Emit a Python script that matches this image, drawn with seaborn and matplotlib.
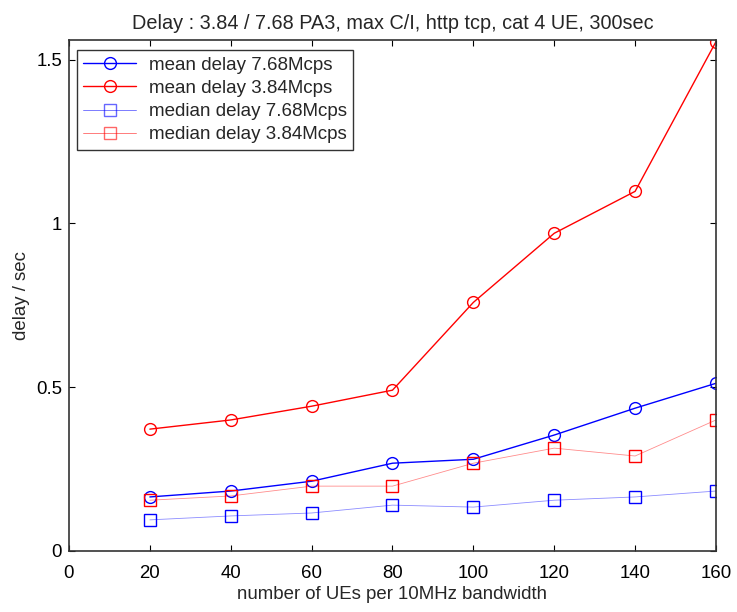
import matplotlib
matplotlib.use("Agg")
import matplotlib.pyplot as plt
import seaborn as sns
import pandas as pd
from matplotlib.lines import Line2D

sns.set_theme(style="white")
plt.rcParams["font.family"] = ["Liberation Sans", "DejaVu Sans"]

ues = [20, 40, 60, 80, 100, 120, 140, 160]
mean_768 = [0.165, 0.183, 0.213, 0.268, 0.280, 0.354, 0.436, 0.512]
mean_384 = [0.372, 0.400, 0.442, 0.491, 0.759, 0.970, 1.098, 1.555]
median_768 = [0.095, 0.107, 0.116, 0.140, 0.134, 0.155, 0.165, 0.183]
median_384 = [0.155, 0.168, 0.198, 0.198, 0.268, 0.314, 0.290, 0.400]

series = [
    ("mean delay 7.68Mcps", mean_768, "blue", "o", 1.0, 1.0, 8.5),
    ("mean delay 3.84Mcps", mean_384, "red", "o", 1.0, 1.0, 8.5),
    ("median delay 7.68Mcps", median_768, "blue", "s", 0.6, 0.45, 9.0),
    ("median delay 3.84Mcps", median_384, "red", "s", 0.6, 0.45, 9.0),
]

fig = plt.figure(figsize=(7.37, 6.12), dpi=100)
ax = fig.add_axes([0.0936, 0.0997, 0.8779, 0.8349])

for label, vals, color, marker, lw, alpha, ms in series:
    df = pd.DataFrame({"x": ues, "y": vals})
    sns.lineplot(data=df, x="x", y="y", ax=ax, color=color, linewidth=lw,
                 alpha=alpha, legend=False)
    ax.plot(ues, vals, linestyle="none", marker=marker, markersize=ms,
            markerfacecolor="none", markeredgecolor=color, markeredgewidth=1.0)

ax.set_xlim(0, 160)
ax.set_ylim(0, 1.56)
ax.set_xticks(range(0, 161, 20))
ax.set_yticks([0, 0.5, 1, 1.5])
ax.set_yticklabels(["0", "0.5", "1", "1.5"])
ax.tick_params(direction="in", length=4, width=0.8, colors="black",
               labelsize=13.4, top=True, right=True, bottom=True, left=True)
ax.tick_params(axis="x", pad=10)
ax.tick_params(axis="y", pad=5)
for s in ax.spines.values():
    s.set_color("#333333")
    s.set_linewidth(1.2)

ax.set_xlabel("number of UEs per 10MHz bandwidth", fontsize=13.4, labelpad=3)
ax.set_ylabel("delay / sec", fontsize=13.4, labelpad=4)
ax.set_title("Delay : 3.84 / 7.68 PA3, max C/I, http tcp, cat 4 UE, 300sec",
             fontsize=14.3, pad=8)

handles = [Line2D([], [], color=c, linewidth=lw, alpha=1.0 if lw == 1 else 0.6,
                  marker=m, markersize=ms, markerfacecolor="none",
                  markeredgecolor=c) for _, _, c, m, lw, _, ms in series]
leg = ax.legend(handles, [s[0] for s in series], loc="upper left",
                bbox_to_anchor=(0.012, 0.98), fontsize=13.5, frameon=True,
                fancybox=False, edgecolor="black", handlelength=2.8,
                borderpad=0.35, labelspacing=0.32, handletextpad=0.7,
                borderaxespad=0)
leg.get_frame().set_linewidth(1.0)

fig.savefig("out.png", dpi=100)
